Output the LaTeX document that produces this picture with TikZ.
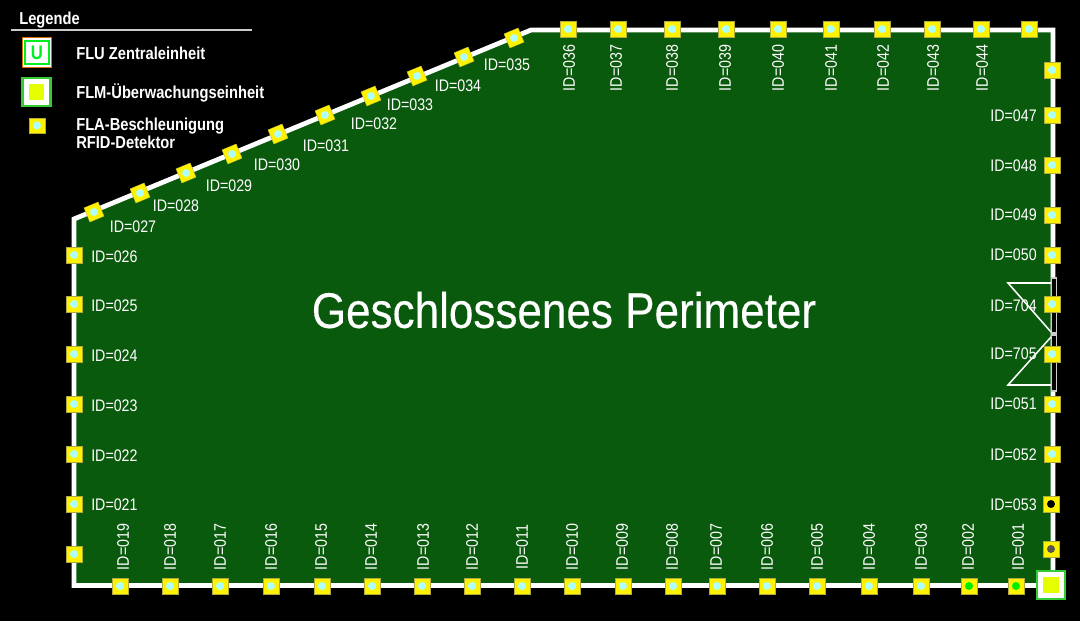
\documentclass[tikz,border=0pt]{standalone}
\usepackage{fontspec}
\setmainfont[FakeStretch=0.85]{Liberation Sans}
\newfontfamily\titlefont[FakeStretch=0.88,FakeBold=0.25]{Liberation Sans}
\usepackage{tikz}
\usetikzlibrary{positioning}
\definecolor{fieldgreen}{HTML}{0A5A0D}
\definecolor{unitgreen}{HTML}{33CC33}
\definecolor{unityellow}{HTML}{E6FF00}
\definecolor{dotcyan}{HTML}{B0FFFF}
\definecolor{dotgreen}{HTML}{00EE00}
\definecolor{dotgrey}{HTML}{555555}
\definecolor{flugreen}{HTML}{00EE22}
\tikzset{
  sensor/.style={rectangle,draw=yellow!65!black,very thin,fill=yellow,minimum size=0.385cm,inner sep=0pt,
    path picture={\fill[#1] (path picture bounding box.center) circle (0.1cm);}},
  sensor/.default=dotcyan,
  idlabel/.style={font=\fontsize{11.9}{12}\selectfont,text=white,inner sep=0pt},
  idside/.style={idlabel,rotate=90},
  legendtext/.style={font=\fontsize{12.3}{12.9}\selectfont\bfseries,text=white,inner sep=0pt,anchor=west,align=left},
  gatebar/.style={draw=white!80!black,fill=black,line width=0.8pt}
}
\begin{document}
\begin{tikzpicture}[x=0.025cm,y=-0.025cm]
\fill[black] (0,0) rectangle (1080,621);
\draw[fill=fieldgreen,draw=white,line width=3.4pt,line join=miter] (74,219) -- (531,30) -- (1053,30) -- (1053,585.5) -- (74,585.5) -- cycle;
\draw[gatebar] (1051.5,278) rectangle (1056.5,333);
\draw[gatebar] (1051.5,335) rectangle (1056.5,391);
\draw[white,line width=1.1pt] (1051,283) -- (1008,283) -- (1051,332);
\draw[white,line width=1.1pt] (1051,337) -- (1008,385) -- (1051,385);

\node[font=\fontsize{35.6}{38}\selectfont\titlefont,text=white,inner sep=0pt] (title) at (564,310) {Geschlossenes Perimeter};

\node[sensor=dotgreen] (s001) at (1016,586) {};
\node[sensor=dotgreen] (s002) at (969,586) {};
\node[sensor] (s003) at (921,586) {};
\node[sensor] (s004) at (869,586) {};
\node[sensor] (s005) at (817,586) {};
\node[sensor] (s006) at (767,586) {};
\node[sensor] (s007) at (717,586) {};
\node[sensor] (s008) at (673,586) {};
\node[sensor] (s009) at (623,586) {};
\node[sensor] (s010) at (572,586) {};
\node[sensor] (s011) at (522,586) {};
\node[sensor] (s012) at (472,586) {};
\node[sensor] (s013) at (422,586) {};
\node[sensor] (s014) at (372,586) {};
\node[sensor] (s015) at (322,586) {};
\node[sensor] (s016) at (271,586) {};
\node[sensor] (s017) at (220,586) {};
\node[sensor] (s018) at (170,586) {};
\node[sensor] (s019) at (120,586) {};
\node[sensor] (s020) at (74,554) {};
\node[sensor] (s021) at (74,504) {};
\node[sensor] (s022) at (74,454) {};
\node[sensor] (s023) at (74,404) {};
\node[sensor] (s024) at (74,354) {};
\node[sensor] (s025) at (74,304) {};
\node[sensor] (s026) at (74,255) {};
\node[sensor,rotate=22.5] (s027) at (94,212) {};
\node[sensor,rotate=22.5] (s028) at (140,193) {};
\node[sensor,rotate=22.5] (s029) at (186,173) {};
\node[sensor,rotate=22.5] (s030) at (232,154) {};
\node[sensor,rotate=22.5] (s031) at (278,134) {};
\node[sensor,rotate=22.5] (s032) at (325,115) {};
\node[sensor,rotate=22.5] (s033) at (371,96) {};
\node[sensor,rotate=22.5] (s034) at (417,76) {};
\node[sensor,rotate=22.5] (s035) at (464,57) {};
\node[sensor,rotate=22.5] (s035b) at (514,38) {};
\node[sensor] (s036) at (568,29) {};
\node[sensor] (s037) at (618,29) {};
\node[sensor] (s038) at (672,29) {};
\node[sensor] (s039) at (726,29) {};
\node[sensor] (s040) at (778,29) {};
\node[sensor] (s041) at (831,29) {};
\node[sensor] (s042) at (882,29) {};
\node[sensor] (s043) at (932,29) {};
\node[sensor] (s044) at (981,29) {};
\node[sensor] (s045) at (1029,29) {};
\node[sensor] (s046) at (1052,70) {};
\node[sensor] (s047) at (1052,115) {};
\node[sensor] (s048) at (1052,165) {};
\node[sensor] (s049) at (1052,215) {};
\node[sensor] (s050) at (1052,255) {};
\node[sensor] (s704) at (1052,304) {};
\node[sensor] (s705) at (1052,354) {};
\node[sensor] (s051) at (1052,404) {};
\node[sensor] (s052) at (1052,454) {};
\node[sensor=black] (s053) at (1051,504) {};
\node[sensor=dotgrey] (s054) at (1051,549) {};

\node[idside] (l001) at (1018,547) {ID=001};
\node[idside] (l002) at (968,547) {ID=002};
\node[idside] (l003) at (921,547) {ID=003};
\node[idside] (l004) at (869,547) {ID=004};
\node[idside] (l005) at (817,547) {ID=005};
\node[idside] (l006) at (767,547) {ID=006};
\node[idside] (l007) at (716,547) {ID=007};
\node[idside] (l008) at (672,547) {ID=008};
\node[idside] (l009) at (622,547) {ID=009};
\node[idside] (l010) at (572,547) {ID=010};
\node[idside] (l011) at (522,547) {ID=011};
\node[idside] (l012) at (472,547) {ID=012};
\node[idside] (l013) at (423,547) {ID=013};
\node[idside] (l014) at (371,547) {ID=014};
\node[idside] (l015) at (321,547) {ID=015};
\node[idside] (l016) at (271,547) {ID=016};
\node[idside] (l017) at (220,547) {ID=017};
\node[idside] (l018) at (170,547) {ID=018};
\node[idside] (l019) at (123,547) {ID=019};
\node[idlabel,anchor=west] (l021) at (91,505) {ID=021};
\node[idlabel,anchor=west] (l022) at (91,456) {ID=022};
\node[idlabel,anchor=west] (l023) at (91,406) {ID=023};
\node[idlabel,anchor=west] (l024) at (91,356) {ID=024};
\node[idlabel,anchor=west] (l025) at (91,306) {ID=025};
\node[idlabel,anchor=west] (l026) at (91,257) {ID=026};
\node[idlabel] (l027) at (133,227) {ID=027};
\node[idlabel] (l028) at (176,206) {ID=028};
\node[idlabel] (l029) at (229,186) {ID=029};
\node[idlabel] (l030) at (277,165) {ID=030};
\node[idlabel] (l031) at (326,146) {ID=031};
\node[idlabel] (l032) at (374,124) {ID=032};
\node[idlabel] (l033) at (410,105) {ID=033};
\node[idlabel] (l034) at (458,86) {ID=034};
\node[idlabel] (l035) at (507,65) {ID=035};
\node[idside] (l036) at (569,68) {ID=036};
\node[idside] (l037) at (616,68) {ID=037};
\node[idside] (l038) at (672,68) {ID=038};
\node[idside] (l039) at (725,68) {ID=039};
\node[idside] (l040) at (778,68) {ID=040};
\node[idside] (l041) at (831,68) {ID=041};
\node[idside] (l042) at (883,68) {ID=042};
\node[idside] (l043) at (933,68) {ID=043};
\node[idside] (l044) at (982,68) {ID=044};
\node[idlabel,anchor=east] (l047) at (1037,116) {ID=047};
\node[idlabel,anchor=east] (l048) at (1037,166) {ID=048};
\node[idlabel,anchor=east] (l049) at (1037,215) {ID=049};
\node[idlabel,anchor=east] (l050) at (1037,255) {ID=050};
\node[idlabel,anchor=east] (l704) at (1037,306) {ID=704};
\node[idlabel,anchor=east] (l705) at (1037,354) {ID=705};
\node[idlabel,anchor=east] (l051) at (1037,404) {ID=051};
\node[idlabel,anchor=east] (l052) at (1037,455) {ID=052};
\node[idlabel,anchor=east] (l053) at (1037,505) {ID=053};

\node[rectangle,draw=unitgreen,line width=2pt,fill=white,minimum size=0.7cm,inner sep=0pt] (flm) at (1051,585) {};
\node[rectangle,fill=unityellow,minimum size=0.39cm,inner sep=0pt] (flmcore) at (flm.center) {};

\node[font=\fontsize{12.3}{13}\selectfont\bfseries,text=white,inner sep=0pt,anchor=west] (legende) at (19,20) {Legende};
\draw[white!80!black,line width=0.9pt] (11,30) -- (252,30);

\node[rectangle,draw=orange!85!black,line width=0.5pt,fill=white,minimum size=0.74cm,inner sep=0pt] (keyflu) at (37,52.5) {};
\node[rectangle,draw=flugreen,line width=1.4pt,fill=white,minimum size=0.58cm,inner sep=0pt,text=flugreen,font=\fontsize{14}{14}\selectfont\bfseries] (keyflucore) at (keyflu.center) {U};
\node[rectangle,draw=unitgreen,line width=2pt,fill=white,minimum size=0.7cm,inner sep=0pt] (keyflm) at (36.5,92) {};
\node[rectangle,fill=unityellow,minimum size=0.38cm,inner sep=0pt] (keyflmcore) at (keyflm.center) {};
\node[sensor] (keyfla) at (37,125.5) {};

\node[legendtext] (textflu) at (76,53) {FLU Zentraleinheit};
\node[legendtext] (textflm) at (76,93) {FLM-Überwachungseinheit};
\node[legendtext] (textfla) at (76,133.5) {FLA-Beschleunigung\\RFID-Detektor};
\end{tikzpicture}
\end{document}
